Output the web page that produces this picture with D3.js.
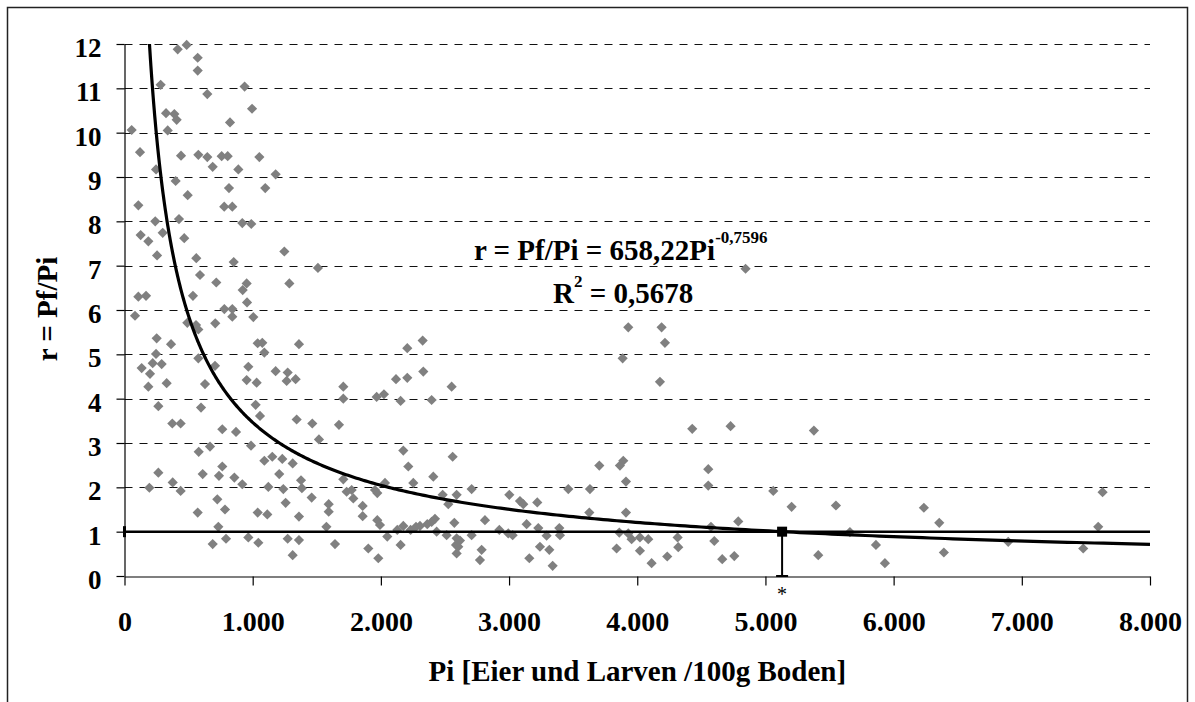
<!DOCTYPE html>
<html>
<head>
<meta charset="utf-8">
<script src="https://cdn.jsdelivr.net/npm/d3@7"></script>
<style>
  html, body { margin: 0; padding: 0; background: #fff; }
  svg { display: block; }
  text { font-family: "Liberation Serif", "Times New Roman", Times, serif; fill: #000; }
</style>
</head>
<body>
<svg id="chart" width="1195" height="702"></svg>
<script>
// Field samples: Pi (eggs and larvae per 100 g soil) and multiplication rate r = Pf/Pi
const observations = [
  [415,11.88],[485,11.98],[571,11.69],[571,11.40],[282,11.08],[937,11.04],[646,10.87],[995,10.54],
  [324,10.44],[389,10.42],[407,10.29],[823,10.23],[56,10.06],[337,10.05],[121,9.56],[441,9.48],
  [576,9.50],[646,9.45],[758,9.47],[805,9.47],[688,9.23],[888,9.17],[1052,9.45],[246,9.17],
  [1179,9.06],[399,8.91],[815,8.75],[1098,8.75],[493,8.59],[108,8.36],[778,8.33],[841,8.33],
  [240,8.00],[425,8.05],[919,7.96],[989,7.94],[126,7.69],[298,7.74],[186,7.55],[466,7.62],
  [254,7.23],[560,7.17],[1247,7.32],[852,7.08],[1509,6.95],[589,6.79],[716,6.62],[1286,6.60],
  [953,6.60],[922,6.45],[108,6.30],[168,6.32],[534,6.32],[956,6.17],
  [82,5.87],[779,6.02],[841,6.02],[841,5.85],[1005,5.84],[490,5.71],[558,5.66],[576,5.56],
  [708,5.70],[251,5.36],[363,5.23],[1039,5.25],[1075,5.26],[1091,5.04],[1361,5.23],[246,5.01],
  [220,4.80],[290,4.78],[134,4.69],[199,4.56],[186,4.27],[329,4.35],[576,4.91],[706,4.74],
  [628,4.33],[966,4.72],[953,4.42],[1031,4.36],[1179,4.62],[1273,4.59],[1265,4.40],[1335,4.44],
  [264,3.83],[597,3.80],[1023,3.86],[1057,3.61],[373,3.44],[438,3.44],[763,3.31],[870,3.25],
  [1343,3.53],[1465,3.44],[1517,3.08],[987,2.94],[579,2.80],[667,2.92],[1091,2.60],[1153,2.69],
  [1231,2.64],[1312,2.54],[264,2.33],[376,2.11],[438,1.92],[194,1.99],[610,2.30],[763,2.47],
  [737,2.26],[857,2.22],[919,2.07],[1122,2.01],[1207,2.30],[1239,1.96],[1377,2.16],[1384,1.98],
  [1257,1.65],[1460,1.77],[724,1.73],[784,1.50],[571,1.43],[1039,1.43],[1114,1.39],[1361,1.34],
  [732,1.11],[1575,1.11],[1593,1.62],[1593,1.45],[688,0.72],[792,0.84],[966,0.87],[1044,0.75],
  [1273,0.84],[1361,0.81],[1312,0.47],
  [1707,4.27],[1707,4.00],[1673,3.41],[2206,5.14],[2326,5.31],[2331,4.61],[2118,4.44],[2206,4.47],
  [2552,4.27],[1967,4.04],[2024,4.10],[2154,3.95],[2396,3.97],[2175,2.83],[2560,2.69],[2214,2.47],
  [2409,2.24],[2253,2.10],[1707,2.18],[1733,1.90],[1772,1.94],[1785,1.75],[2032,2.10],[1954,1.94],
  [1972,1.87],[1858,1.58],[1858,1.35],[1642,0.72],[1902,0.62],[1980,0.40],[1972,1.26],[1993,1.15],
  [2050,0.89],[2128,1.04],[2175,1.13],[2154,0.70],[2232,1.04],[2274,1.11],[2305,1.13],[2362,1.17],
  [2396,1.22],[2422,1.29],[2435,1.00],[2482,1.83],[2526,1.62],[2591,1.83],[2513,0.92],[2573,1.20],
  [2591,0.85],[2617,0.80],[2586,0.70],[2604,0.66],[2591,0.51],[2708,1.96],[2708,0.92],[2812,1.26],
  [2786,0.59],[2773,0.36],[2924,1.04],[3002,1.83],[2994,0.96],[3028,0.92],[3085,1.69],[3111,1.62],
  [3220,1.66],[3137,1.17],[3228,1.08],[3293,0.91],[3241,0.66],[3158,0.40],[3314,0.59],[3340,0.23],
  [3930,5.61],[4190,5.61],[4216,5.26],[3886,4.91],[4177,4.38],[4429,3.32],[4728,3.38],[3704,2.49],
  [3865,2.49],[3891,2.60],[3912,2.13],[4554,2.41],[4554,2.04],[3462,1.96],[3631,1.96],[5061,1.92],
  [5204,1.56],[3626,1.43],[3912,1.43],[4788,1.23],[4575,1.11],[3392,1.08],[3397,0.92],[3860,0.98],
  [3930,0.96],[3956,0.83],[4021,0.87],[4086,0.83],[3839,0.62],[4021,0.57],[4112,0.29],[4234,0.44],
  [4315,0.87],[4320,0.65],[4601,0.79],[4663,0.38],[4757,0.45],[4845,6.93],
  [5378,3.28],[5550,1.59],[5412,0.47],[5659,0.99],[5862,0.70],[5932,0.29],[6236,1.54],[6356,1.20],
  [6392,0.53],[6894,0.77],[7479,0.62],[7596,1.11],[7630,1.89]
];

const xTicks = [0, 1000, 2000, 3000, 4000, 5000, 6000, 7000, 8000];
const yTicks = [0, 1, 2, 3, 4, 5, 6, 7, 8, 9, 10, 11, 12];

// Power-law fit r = a * Pi^b
const fitA = 658.22;
const fitB = -0.7596;
const fitLabelMain = "r = Pf/Pi = 658,22Pi";
const fitLabelExp = "-0,7596";
const r2Value = "0,5678";

// Break-even line (r = 1) and the marked equilibrium density
const breakEvenR = 1;
const equilibrium = { pi: 5130, r: 1 };

const xTitle = "Pi [Eier und Larven /100g Boden]";
const yTitle = "r = Pf/Pi";

const svg = d3.select("#chart");
const FONT = '"Liberation Serif", "Times New Roman", Times, serif';

const x = d3.scaleLinear().domain([0, 8000]).range([124.5, 1150]);
const y = d3.scaleLinear().domain([0, 12]).range([576, 44]);

const de = d3.formatLocale({ decimal: ",", thousands: ".", grouping: [3], currency: ["", " €"] });
const fmtThousands = de.format(",");

// outer chart frame
svg.append("rect")
  .attr("x", 7.5).attr("y", 7.5)
  .attr("width", 1180).attr("height", 720)
  .attr("fill", "none").attr("stroke", "#222").attr("stroke-width", 1.5);

// dashed horizontal gridlines
svg.append("g")
  .selectAll("line")
  .data(yTicks.filter(v => v > 0))
  .join("line")
  .attr("x1", x(0)).attr("x2", x(8000))
  .attr("y1", d => Math.round(y(d)) + 0.5).attr("y2", d => Math.round(y(d)) + 0.5)
  .attr("stroke", "#111").attr("stroke-width", 1)
  .attr("stroke-dasharray", "8,7");

// x axis
const gx = svg.append("g")
  .attr("transform", "translate(0,576.5)")
  .call(d3.axisBottom(x).tickValues(xTicks).tickSize(9).tickSizeOuter(0).tickFormat(fmtThousands));
gx.selectAll("path, line").attr("stroke", "#000").attr("stroke-width", 1.2);
gx.selectAll("text")
  .attr("y", 54.5).attr("dy", null)
  .attr("fill", "#000")
  .style("font-family", FONT).style("font-size", "28px").style("font-weight", "bold");

// y axis
const gy = svg.append("g")
  .attr("transform", "translate(124.5,0)")
  .call(d3.axisLeft(y).tickValues(yTicks).tickSize(8).tickSizeOuter(0));
gy.selectAll("path, line").attr("stroke", "#000").attr("stroke-width", 1.2);
gy.selectAll("text")
  .attr("x", -23).attr("dy", null).attr("y", 12.5)
  .attr("fill", "#000")
  .style("font-family", FONT).style("font-size", "27px").style("font-weight", "bold");

// observations as grey diamonds
svg.append("g")
  .selectAll("path")
  .data(observations)
  .join("path")
  .attr("d", d3.symbol(d3.symbolSquare, 52))
  .attr("transform", d => `translate(${x(d[0])},${y(d[1])}) rotate(45)`)
  .attr("fill", "#808080");

// break-even line r = 1
svg.append("path")
  .datum([[0, breakEvenR], [8000, breakEvenR]])
  .attr("d", d3.line().x(d => x(d[0])).y(d => y(d[1])))
  .attr("fill", "none").attr("stroke", "#000").attr("stroke-width", 2.5);
svg.append("rect")
  .attr("x", x(0) - 1.5).attr("y", y(breakEvenR) - 5.5)
  .attr("width", 3).attr("height", 11).attr("fill", "#000");

// fitted power curve, clipped at the top of the axis range
const piStart = Math.pow(12 / fitA, 1 / fitB);
const curveData = d3.range(0, 401).map(i => {
  const pi = piStart * Math.pow(8000 / piStart, i / 400);
  return [pi, fitA * Math.pow(pi, fitB)];
});
svg.append("path")
  .datum(curveData)
  .attr("d", d3.line().x(d => x(d[0])).y(d => y(d[1])))
  .attr("fill", "none").attr("stroke", "#000").attr("stroke-width", 3.2)
  .attr("stroke-linejoin", "round");

// equilibrium marker with drop line to the x axis
const ex = x(equilibrium.pi), ey = y(equilibrium.r);
svg.append("line")
  .attr("x1", ex).attr("x2", ex).attr("y1", ey).attr("y2", y(0))
  .attr("stroke", "#000").attr("stroke-width", 2);
svg.append("line")
  .attr("x1", ex - 6).attr("x2", ex + 6).attr("y1", y(0)).attr("y2", y(0))
  .attr("stroke", "#000").attr("stroke-width", 2);
svg.append("rect")
  .attr("x", ex - 5).attr("y", ey - 5).attr("width", 10).attr("height", 10)
  .attr("fill", "#000");
svg.append("text")
  .attr("x", ex).attr("y", 601)
  .attr("text-anchor", "middle")
  .style("font-family", FONT).style("font-size", "20px")
  .text("*");

// fit equation and coefficient of determination
const eq = svg.append("text")
  .attr("x", 474).attr("y", 260)
  .style("font-family", FONT).style("font-size", "29px").style("font-weight", "bold");
eq.append("tspan").text(fitLabelMain);
eq.append("tspan").attr("dy", -17).style("font-size", "17px").text(fitLabelExp);

const r2 = svg.append("text")
  .attr("x", 553).attr("y", 303)
  .style("font-family", FONT).style("font-size", "29px").style("font-weight", "bold");
r2.append("tspan").text("R");
r2.append("tspan").attr("dy", -16).style("font-size", "17px").text("2");
r2.append("tspan").attr("dy", 16).text(" = " + r2Value);

// axis titles
svg.append("text")
  .attr("x", (x(0) + x(8000)) / 2).attr("y", 681)
  .attr("text-anchor", "middle")
  .style("font-family", FONT).style("font-size", "29px").style("font-weight", "bold")
  .text(xTitle);

svg.append("text")
  .attr("transform", "translate(57,309) rotate(-90)")
  .attr("text-anchor", "middle")
  .style("font-family", FONT).style("font-size", "29px").style("font-weight", "bold")
  .text(yTitle);
</script>
</body>
</html>
